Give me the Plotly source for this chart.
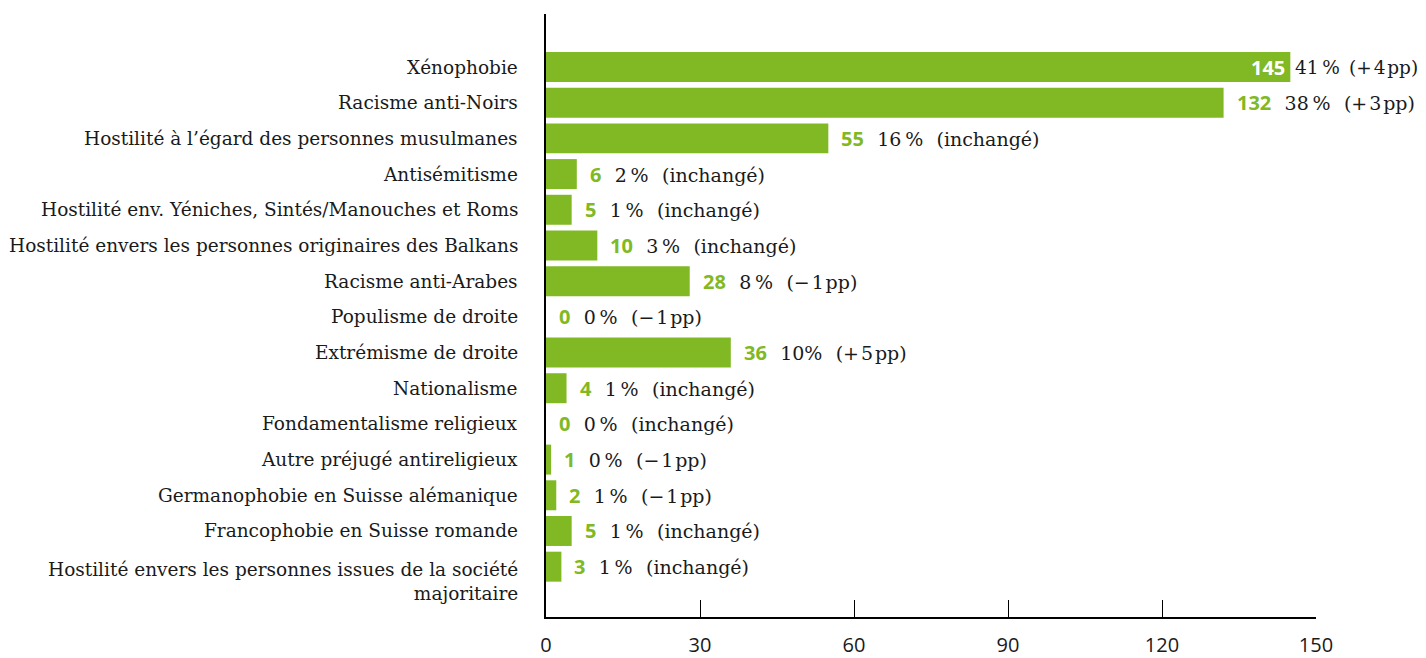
import plotly.graph_objects as go

categories = [
    "Xénophobie",
    "Racisme anti-Noirs",
    "Hostilité à l’égard des personnes musulmanes",
    "Antisémitisme",
    "Hostilité env. Yéniches, Sintés/Manouches et Roms",
    "Hostilité envers les personnes originaires des Balkans",
    "Racisme anti-Arabes",
    "Populisme de droite",
    "Extrémisme de droite",
    "Nationalisme",
    "Fondamentalisme religieux",
    "Autre préjugé antireligieux",
    "Germanophobie en Suisse alémanique",
    "Francophobie en Suisse romande",
    "Hostilité envers les personnes issues de la société<br>majoritaire",
]
values = [145, 132, 55, 6, 5, 10, 28, 0, 36, 4, 0, 1, 2, 5, 3]
shares = ["41\u2009%", "38\u2009%", "16\u2009%", "2\u2009%", "1\u2009%", "3\u2009%", "8\u2009%",
          "0\u2009%", "10%", "1\u2009%", "0\u2009%", "0\u2009%", "1\u2009%", "1\u2009%", "1\u2009%"]
changes = ["(+\u200a4\u200app)", "(+\u200a3\u200app)", "(inchangé)", "(inchangé)", "(inchangé)",
           "(inchangé)", "(−\u200a1\u200app)", "(−\u200a1\u200app)", "(+\u200a5\u200app)", "(inchangé)",
           "(inchangé)", "(−\u200a1\u200app)", "(−\u200a1\u200app)", "(inchangé)", "(inchangé)"]
x_ticks = [0, 30, 60, 90, 120, 150]

GREEN = "#80b924"
SERIF = "DejaVu Serif"
SANS = "Open Sans"
TXT = "#1a1a1a"
GAP = "\u2002\u2009"

fig = go.Figure(go.Bar(
    x=values, y=categories, orientation="h",
    marker=dict(color=GREEN, line=dict(width=0)),
    width=0.84, hoverinfo="skip",
))

ann = []
for i, (c, v, s, ch) in enumerate(zip(categories, values, shares, changes)):
    ann.append(dict(
        x=0, xref="paper", y=c, yref="y", xanchor="right", yanchor="middle",
        xshift=-26, yshift=(-15 if "<br>" in c else 0), align="right",
        text=c, showarrow=False, font=dict(family=SERIF, size=18.5, color=TXT),
    ))
    if i == 0:
        ann.append(dict(
            x=v, y=c, xanchor="right", yanchor="middle", xshift=-3,
            text="<b>%d</b>" % v, showarrow=False,
            font=dict(family=SANS, size=20, color="white"),
        ))
        ann.append(dict(
            x=v, y=c, xanchor="left", yanchor="middle", xshift=3,
            text="%s\u2002%s" % (s, ch), showarrow=False,
            font=dict(family=SERIF, size=18.5, color=TXT),
        ))
    else:
        txt = ('<span style="font-family:%s;font-weight:bold;color:%s;font-size:20px">%d</span>'
               '%s%s%s%s') % (SANS, GREEN, v, GAP, s, GAP, ch)
        ann.append(dict(
            x=v, y=c, xanchor="left", yanchor="middle", xshift=11,
            text=txt, showarrow=False,
            font=dict(family=SERIF, size=19, color=TXT),
        ))

fig.update_layout(
    width=1418, height=650,
    margin=dict(l=538, r=110, t=6, b=41),
    plot_bgcolor="white", paper_bgcolor="white",
    showlegend=False,
    annotations=ann,
    xaxis=dict(
        range=[0, 150], tickvals=x_ticks, ticktext=[str(t) for t in x_ticks],
        showgrid=False, zeroline=False, showline=True, linecolor="black", linewidth=1.5,
        ticks="inside", ticklen=17, tickwidth=1.2, tickcolor="black", automargin=False,
        tickfont=dict(family=SANS, size=20, color=TXT), ticklabelstandoff=9,
    ),
    yaxis=dict(
        categoryorder="array", categoryarray=categories, automargin=False,
        range=[15.41, -1.485], showticklabels=False, ticks="",
        showgrid=False, zeroline=False, showline=True, linecolor="black", linewidth=1.5,
    ),
)

fig.write_html("out.html")
